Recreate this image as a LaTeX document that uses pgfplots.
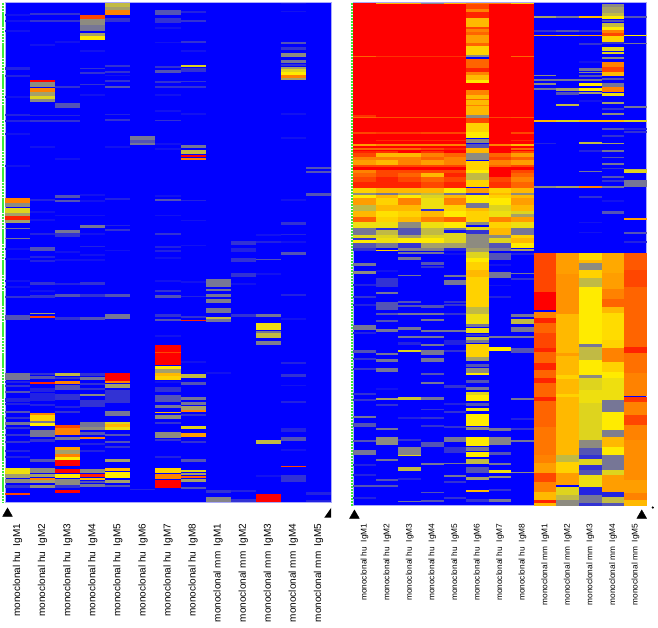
\documentclass[border=0pt]{standalone}
\usepackage{fontspec}
\setmainfont{Liberation Sans}
\usepackage{pgfplots}
\pgfplotsset{compat=1.18}

% one stripe of the heat map: column wide, 1pt high, hanging below y
\pgfdeclareplotmark{band}{%
  \pgfpathrectangle{\pgfpoint{-\pgfplotmarksize}{-1pt}}{\pgfpoint{2\pgfplotmarksize}{1pt}}%
  \pgfusepathqfill}
% right-angled corner marker of the left panel
\pgfdeclareplotmark{corner}{%
  \pgfpathmoveto{\pgfpoint{-3.5pt}{-5pt}}\pgfpathlineto{\pgfpoint{3.5pt}{-5pt}}%
  \pgfpathlineto{\pgfpoint{3.5pt}{5pt}}\pgfpathclose\pgfusepathqfill}

\pgfplotsset{
  colormap={heat}{rgb255=(0,0,255) rgb255=(18,18,240) rgb255=(50,50,212) rgb255=(118,118,150)
    rgb255=(165,160,105) rgb255=(222,212,30) rgb255=(255,235,0) rgb255=(255,185,0)
    rgb255=(255,130,0) rgb255=(255,70,0) rgb255=(255,0,0)},
  heatpanel/.style={
    scale only axis, clip=false, y dir=reverse,
    axis background/.style={fill={rgb,255:red,0;green,0;blue,255}},
    axis line style={draw={rgb,255:red,170;green,170;blue,250},line width=0.6pt},
    xmin=0.5, xmax=13.5, ytick=\empty,
    xtick={1,...,13}, xticklabel pos=lower, major tick length=0pt,
    xticklabels={monoclonal hu\ \ IgM1,monoclonal hu\ \ IgM2,monoclonal hu\ \ IgM3,monoclonal hu\ \ IgM4,
      monoclonal hu\ \ IgM5,monoclonal hu\ \ IgM6,monoclonal hu\ \ IgM7,monoclonal hu\ \ IgM8,
      monoclonal mm\ \ IgM1,monoclonal mm\ \ IgM2,monoclonal mm\ \ IgM3,monoclonal mm\ \ IgM4,monoclonal mm\ \ IgM5},
    colormap name=heat, point meta min=0, point meta max=10,
  },
  stripes/.style={
    scatter, only marks, mark=band, mark size=#1,
    point meta=\thisrow{v},
    visualization depends on=\thisrow{h} \as \hh,
    scatter/@pre marker code/.append style={/tikz/yscale=\hh},
  },
}

\begin{document}
\begin{tikzpicture}
\path[use as bounding box] (0pt,0pt) rectangle (658pt,-627pt);

% left panel
\begin{axis}[heatpanel, name=lp, at={(5pt,-502.3pt)}, anchor=south west,
  width=326pt, height=499.6pt, ymin=2.7, ymax=502.3,
  xticklabel style={rotate=90, anchor=east, font=\fontsize{10}{12}\selectfont, xshift=-18pt}]
\addplot[stripes=12.54] table[x=c,y=y,row sep=\\] {
c y h v\\
1 14 1.5 1\\ 1 20 1.5 1\\ 1 30 1.5 1\\ 1 67 2.5 1.5\\ 1 75 1.5 1.5\\ 1 96 2 1\\ 1 114 1.5 1.5\\ 1 120 1.5 1.5\\ 1 133 1.5 1\\ 1 165 1.5 1\\
1 198.3 5 8\\ 1 203.3 4 3.5\\ 1 208.3 5 5\\ 1 213.3 2.5 4\\ 1 216 4 9.5\\ 1 220 3.3 4\\ 1 227.5 1.8 3\\ 1 237.5 1.8 3\\ 1 248 2 1\\ 1 258 1.5 1\\ 1 280 1.5 1\\ 1 286 1.5 1\\ 1 296 1.5 2\\ 1 315 5 2.5\\
1 373 7 3\\ 1 381 2 1.5\\ 1 385 2 2\\ 1 390.5 2.5 2.5\\ 1 398 4 1.5\\ 1 403 2 1.5\\ 1 411 2 2.5\\ 1 417 2 2\\ 1 421.5 3 3\\ 1 427 2 2\\ 1 434 2 2\\ 1 441 2 2\\ 1 450 2 1.5\\ 1 456 2 1.5\\
1 467.7 6.3 5.5\\ 1 474 4.3 4\\ 1 479.3 4 3.5\\ 1 485 3 2\\ 1 493 1.5 9\\
2 12.5 2 2\\ 2 20 2 2\\ 2 44 1.5 1\\ 2 80 1.5 10\\ 2 81.5 5.5 3.5\\ 2 88 4 8\\ 2 92 4 4\\ 2 96 3 5\\ 2 99 3 3.5\\ 2 114.5 1.5 1.5\\ 2 119.5 2 2\\ 2 146 1.5 1\\
2 199 2 1.5\\ 2 211 1.5 1\\ 2 219 1.5 1\\ 2 233 2 1.5\\ 2 247 3.5 2.5\\ 2 256 1.5 1.5\\ 2 260 1.5 1.5\\ 2 281.5 3.5 2\\ 2 290 1.5 1\\ 2 295 2.5 2\\ 2 312.5 1.5 4\\ 2 315.8 2 9\\
2 373 2 2\\ 2 376 3 2.5\\ 2 381.7 2.7 9.5\\ 2 388 4 1.5\\ 2 393 8 1.5\\ 2 404 2 1.5\\ 2 412.7 2.3 8\\ 2 415 6 6.5\\ 2 421 2.5 3\\ 2 423.3 2.7 6\\ 2 430 6.7 3\\ 2 439 2.5 2\\ 2 459 2.5 2.5\\ 2 468 5 3.5\\ 2 474 3 4\\ 2 477.5 2 8\\ 2 480 3 4\\ 2 485 3.3 3.5\\
3 12.5 2 2\\ 3 20 2 2\\ 3 41 1.5 1\\ 3 86 2 2\\ 3 102.7 5.3 2.5\\ 3 114.5 1.5 1.5\\ 3 119.5 2 2\\ 3 158 1.5 1\\
3 195 3.3 2.5\\ 3 200 1.8 2.5\\ 3 214.5 1.5 1\\ 3 230 2.5 3\\ 3 233 3.5 2\\ 3 251 1.5 1\\ 3 259 1.5 1\\ 3 283 1.5 1.5\\ 3 294 2.5 2.5\\ 3 317 2.5 2\\
3 373 3 4.5\\ 3 376.5 2 2\\ 3 381 2.5 8\\ 3 385 5 2.5\\ 3 394 6 2\\ 3 406 2 1.5\\ 3 411 2 2\\ 3 425 3 9\\ 3 428 7 8\\ 3 436.7 3.3 3\\ 3 447 3 7.5\\ 3 450 4 4\\ 3 454 3.3 8\\ 3 457.3 2.7 6\\ 3 460 6 10\\ 3 469.3 4 10\\ 3 474 4.3 6\\ 3 479.3 5.7 3.5\\ 3 485 2.5 2\\ 3 490 3 10\\
4 15 3.5 9\\ 4 18.5 6.5 3.5\\ 4 25 6 3\\ 4 32.5 3.5 4\\ 4 36 4 6\\ 4 50 1.5 1\\ 4 67.5 1.5 2\\ 4 72 1.5 2\\ 4 83.5 1.5 2\\ 4 94 1.5 1\\
4 194 1.5 1\\ 4 200 1.5 1\\ 4 214.5 1.5 1\\ 4 224.5 3 3\\ 4 233 1.5 1\\ 4 245.5 1.5 1.5\\ 4 254 1.5 1\\ 4 259 1.5 1\\ 4 282 3 2\\ 4 294 2.5 2\\ 4 317 3 2.5\\
4 373 2.5 2\\ 4 376.7 3.3 3\\ 4 383 2 2\\ 4 388 2 2\\ 4 394 2 3.5\\ 4 400 7 2\\ 4 421.7 5 3\\ 4 427 2.5 3.5\\ 4 431.5 3.5 2.5\\ 4 437.3 2 8\\ 4 443 1.5 1.5\\ 4 450 1.5 1.5\\ 4 469.3 4 3.5\\ 4 474 3.3 9.5\\ 4 478 1.5 7\\ 4 481 1.5 2.5\\ 4 484 2.5 3\\
5 2.7 3.8 4.5\\ 5 6.5 3.5 4\\ 5 10 5 8\\ 5 18 4 2\\ 5 64.5 2 2\\ 5 71 2 2\\ 5 74.5 1.5 1\\ 5 79.5 2 2\\ 5 86 2.2 2.5\\ 5 113.5 1.5 1.5\\ 5 118.5 2 2\\ 5 146 1.5 1\\
5 198 2 1.5\\ 5 224.5 1.5 1.5\\ 5 228.5 2 2\\ 5 249.5 1.5 1\\ 5 294 2.5 2.5\\ 5 313.5 5 3\\
5 373.3 7.4 10\\ 5 380.7 1.8 8\\ 5 384.3 4 4\\ 5 390 2 2\\ 5 392 11 2\\ 5 411 5 3\\ 5 421.5 2.8 5\\ 5 424.3 3 7\\ 5 427.3 2.7 5.5\\ 5 434 2 2.5\\ 5 440.5 2 2.5\\ 5 446 2 2\\ 5 459 2.5 4\\ 5 468 2.7 7\\ 5 471.7 6.6 6\\ 5 480 3.3 4\\ 5 484.5 2 2.5\\
6 136 3.5 3\\ 6 139.5 3.5 2.5\\ 6 143 2 3\\ 6 488.5 1.5 1.5\\
7 10 5 2.5\\ 7 18 4.5 2\\ 7 27 1.5 1\\ 7 41.5 1.5 1\\ 7 66 2 2\\ 7 69.5 3.5 2.5\\ 7 81 1.5 2\\ 7 86 1.5 2\\ 7 94 1.5 1\\ 7 110 1.5 1\\ 7 119.5 1.5 2\\ 7 143 1.5 1\\ 7 148 1.5 1\\
7 195 1.5 1\\ 7 199 2.2 2.5\\ 7 214.5 1.5 1\\ 7 232.5 2 2\\ 7 246 2 1.5\\ 7 250 1.5 1.5\\ 7 257 1.5 1\\ 7 280 1.5 1\\ 7 289.5 2 2\\ 7 295 3 2.5\\ 7 314 2.5 2\\ 7 318.5 2 2.5\\ 7 335 1.5 1\\
7 344.7 7 10\\ 7 351.7 1.6 9\\ 7 353.3 11.7 10\\ 7 366 3.3 6\\ 7 369.3 3.4 4\\ 7 372.7 3.3 7\\ 7 376 4 6.5\\ 7 381 1.5 1\\ 7 386.5 5 2\\ 7 395 6.7 2.5\\ 7 405 3 3\\ 7 411.7 1.5 7\\ 7 415 3.5 3.5\\ 7 422 2 2\\ 7 432.3 6 3.5\\ 7 439 2 2\\ 7 456 2 1.5\\ 7 467.7 5.6 6.5\\ 7 474 5.3 8\\ 7 480 7.7 10\\
8 11 1.5 1.5\\ 8 20 2 2\\ 8 40.5 2 2\\ 8 50 1.5 1\\ 8 65 2 5\\ 8 68 4 2\\ 8 80.5 1.5 2\\ 8 85.5 2 2\\ 8 113 1.5 1\\
8 145 3 3\\ 8 150 4 4.5\\ 8 155 2.3 10\\ 8 157.5 2.5 8\\
8 199.5 1.5 1.5\\ 8 219.5 1.5 1\\ 8 244.5 1.5 1\\ 8 281 1.5 1\\ 8 295.5 1.5 1.5\\ 8 316 2 2\\ 8 320.2 1.2 9.5\\
8 361 1.5 1\\ 8 374.3 4 4.5\\ 8 381.5 3.5 2.5\\ 8 396.7 3.3 3\\ 8 401.5 3.5 3\\ 8 405.7 4.3 4\\ 8 410 1.5 8\\ 8 414 2 2\\ 8 425.7 3.6 5\\ 8 433.3 3.4 7.5\\ 8 441 2 2\\ 8 459 2.5 2.5\\ 8 469.5 2 5\\ 8 472.5 2.5 4\\ 8 476 1.8 8.5\\ 8 479 2.5 4\\ 8 486.5 2 2.5\\
9 279.3 8 3\\ 9 289.3 2 3\\ 9 294 3.3 3\\ 9 299.3 4 3.2\\ 9 308.3 4.4 3\\ 9 317 1.8 4.5\\ 9 319.3 2.4 3\\ 9 372 1.5 1\\ 9 490 3 2\\ 9 497.3 5 3.3\\
10 240.7 4.3 2\\ 10 248 4 1.5\\ 10 257.7 4.3 2\\ 10 272.7 4 2\\ 10 283 2 1\\ 10 314 2.5 2\\ 10 490 2 1.5\\ 10 498.5 3.5 2\\
11 234 1.5 1\\ 11 241 1.5 1.5\\ 11 258.5 1.8 2.5\\ 11 273 1.5 1\\ 11 314 2.5 3\\ 11 322.7 7.3 5.5\\ 11 331 2 3\\ 11 333.3 4.4 4.5\\ 11 341 4 3.2\\ 11 440 4 4.5\\ 11 475 1.5 1\\ 11 494.3 8 10\\
12 2.7 1.5 1\\ 12 10.5 1.5 1\\ 12 41.5 2.5 2.5\\ 12 46.5 3.5 2\\ 12 52.5 4.5 3.5\\ 12 60 3 3\\ 12 63.5 2.5 2\\ 12 66.5 2.5 4\\ 12 69 3 5\\ 12 72 2.5 6\\ 12 74.5 3.5 8\\ 12 78 2 4\\ 12 113 1.5 1\\ 12 137 1.5 1\\
12 199 1.5 1\\ 12 222.3 2.8 2\\ 12 233.5 1.5 1.5\\ 12 241 1.5 1\\ 12 252 2.5 2.5\\ 12 294 1.5 1.5\\ 12 318 1.5 1\\
12 362 1.5 1.5\\ 12 373.5 3.5 2\\ 12 384.5 1.5 1\\ 12 401 2 1.5\\ 12 428 3.5 1.5\\ 12 436.7 4.3 2.5\\ 12 449 1.5 1\\ 12 466 1.2 9\\ 12 474.5 7 2\\
13 167 2 2.5\\ 13 171 2 2.5\\ 13 192.7 3.3 2.5\\ 13 492 3 1.5\\ 13 499.5 2 1.5\\
};
\addplot[no marks, draw={rgb,255:red,60;green,235;blue,60}, line width=1.8pt, dash pattern=on 2.5pt off 0.6pt]
  coordinates {(0.42,2.7) (0.42,502.3)};
\addplot[only marks, mark=triangle*, mark size=5.6pt, black] coordinates {(0.6,513.5)};
\addplot[only marks, mark=corner, black] coordinates {(13.37,512.7)};
\end{axis}

% right panel
\begin{axis}[heatpanel, name=rp, at={(353.3pt,-505.7pt)}, anchor=south west,
  width=293.4pt, height=503pt, ymin=2.7, ymax=505.7,
  xticklabel style={rotate=90, anchor=east, font=\fontsize{8.3}{10}\selectfont, xshift=-14.5pt}]
\addplot[stripes=11.28] table[x=c,y=y,row sep=\\] {
c y h v\\
1 2.7 1.2 10\\ 2 2.7 1.2 7\\ 3 2.7 1.2 7\\ 4 2.7 1.2 3.5\\ 5 2.7 1.2 7\\ 6 2.7 1.2 8\\ 7 2.7 1.2 8\\ 8 2.7 1.2 6.5\\
1 3.5 184 10\\ 2 3.5 184 10\\ 3 3.5 184 10\\ 4 3.5 184 10\\ 5 3.5 184 10\\ 7 3.5 184 10\\ 8 3.5 184 10\\
1 55.5 1.3 8.5\\ 2 55.5 1 9.3\\ 3 55.5 1 9.3\\ 4 55.5 1 9.3\\ 5 55.5 1 9.3\\ 8 55.5 1.3 8.5\\
1 115 2.5 9.3\\ 1 117.3 1 8.5\\ 2 117.3 1 8.8\\ 3 117.3 1 8.8\\ 4 117.3 1 8.8\\ 5 117.3 1 8.8\\ 7 117.3 1 9\\ 8 117.3 1 8.8\\
1 132 1.5 9\\ 2 132 1.5 9.2\\ 3 132 1.5 9.2\\ 4 132 1.5 9\\ 5 132 1.5 9\\ 8 132 1.5 9\\
2 139.5 1.5 9.4\\ 3 139.5 1.5 9.4\\ 4 139.5 1.5 9.4\\ 5 139.5 1.5 9.4\\ 8 139.5 1.5 9.4\\
1 144.3 1.8 7.5\\ 2 144.3 1.8 8\\ 3 144.3 1.8 8\\ 4 144.3 1.8 8\\ 5 144.3 1.8 8\\ 7 144.3 1.8 8\\ 8 144.3 1.8 7\\
1 147.5 2 8.5\\ 2 147.5 2 8.5\\ 3 147.5 2 8.5\\ 4 147.5 2 9\\ 5 147.5 2 9.5\\ 8 147.5 2 8.5\\
1 150.5 2.5 9.5\\ 2 150.5 2.5 9.3\\ 4 150.5 2.5 9.3\\ 8 150.5 2.5 9\\
1 153.3 3.4 9\\ 2 153.3 3.4 7\\ 3 153.3 3.4 7\\ 4 153.3 3.4 8\\ 5 153.3 3.4 8.5\\ 7 153.3 3.4 8.5\\ 8 153.3 3.4 7.5\\
1 156.7 3.3 8\\ 2 156.7 3.3 8\\ 3 156.7 3.3 8\\ 4 156.7 3.3 8.5\\ 5 156.7 3.3 8\\ 7 156.7 3.3 9\\ 8 156.7 3.3 8.5\\
1 160 5 7.5\\ 2 160 5 7\\ 3 160 5 8\\ 4 160 5 7.5\\ 5 160 5 8\\ 7 160 5 8\\ 8 160 5 7.5\\
1 165 2 9\\ 2 165 2 9\\ 3 165 2 9\\ 4 165 2 9\\ 5 165 2 9\\ 7 165 2 8.5\\ 8 165 2 9\\
1 170 3 8\\ 2 170 3 9\\ 3 170 3 9\\ 4 170 3 9\\ 5 170 3 9\\ 8 170 3 9\\
1 173 4 8.5\\ 2 173 4 9\\ 3 173 4 8.5\\ 4 173 4 7\\ 5 173 4 9.5\\ 8 173 4 8.5\\
1 177 5 9\\ 2 177 5 9.5\\ 3 177 5 9\\ 4 177 5 8.5\\ 5 177 5 9\\ 7 177 5 9\\ 8 177 5 8\\
1 182 5.5 9.5\\ 2 182 5.5 9.5\\ 3 182 5.5 9.5\\ 4 182 5.5 9\\ 5 182 5.5 9.5\\ 7 182 5.5 9.3\\ 8 182 5.5 8.5\\
1 188 5 6.5\\ 2 188 5 7\\ 3 188 5 7\\ 4 188 5 7\\ 5 188 5 6\\ 7 188 5 6.5\\ 8 188 5 7\\
1 193 2 3.5\\ 2 193 2 3\\ 3 193 2 4\\ 4 193 2 4.5\\ 5 193 2 3\\ 7 193 2 7\\ 8 193 2 3.5\\
1 195 3 6\\ 2 195 3 7\\ 3 195 3 6\\ 4 195 3 5\\ 5 195 3 7\\ 7 195 3 6.5\\ 8 195 3 7\\
1 198 7 7.5\\ 2 198 7 6.5\\ 3 198 7 8\\ 4 198 7 5.5\\ 5 198 7 8\\ 7 198 7 6\\ 8 198 7 7.5\\
1 205 6 4.5\\ 2 205 6 7\\ 3 205 6 7\\ 4 205 4.3 5.5\\ 4 209.3 1.7 2\\ 5 205 6 6.5\\ 7 205 6 5\\ 8 205 6 7\\
1 211 6 7\\ 2 211 6 6.2\\ 3 211 6 6.5\\ 4 211 6 7\\ 5 211 6 6\\ 7 211 6 5.5\\ 8 211 3 5\\ 8 214 3 4\\
1 217 5 8.5\\ 2 217 5 6.5\\ 3 217 5 7\\ 4 217 5 8\\ 5 217 5 8.5\\ 7 217 5 8\\ 8 217 5 7.5\\
1 222 6 5.5\\ 2 222 6 5.5\\ 3 222 6 3.5\\ 4 222 6 5.5\\ 5 222 6 6\\ 7 222 6 6.5\\ 8 222 6 5.5\\
1 228.3 6.7 3\\ 2 228.3 2 2\\ 2 230.3 4.7 4.5\\ 3 228.3 6.7 2.5\\ 4 228.3 6.7 4.5\\ 5 228.3 1.7 3\\ 5 230 3 1\\ 5 233 2 5\\ 7 228.3 6.7 7\\ 8 228.3 6.7 3\\
1 235 3.3 5\\ 2 235 3.3 5\\ 3 235 3.3 4\\ 4 235 3.3 5\\ 5 235 3.3 5\\ 7 235 3.3 3.5\\ 8 235 3.3 6.5\\
1 238.3 2 2\\ 1 240.3 2.4 6\\ 2 238.3 4.4 5.5\\ 3 238.3 4.4 6\\ 4 238.3 4.4 6\\ 5 238.3 4.4 5\\ 7 238.3 4.4 5\\ 8 238.3 4.4 7\\
1 242.7 5.6 2.5\\ 2 242.7 5.6 3\\ 3 242.7 5.6 2\\ 4 242.7 5.6 4\\ 5 242.7 5.6 4\\ 7 242.7 5.6 2.5\\ 8 242.7 5.6 6\\
1 248.3 3 2\\ 2 249.5 1.5 6.5\\ 3 248.3 3 3.2\\ 4 248.3 3 3.2\\ 5 248.3 3 1.5\\ 7 248.3 3 3\\ 8 249 1.5 4\\
1 263 3 3\\ 1 270.5 3.5 3.5\\ 1 284 2 1.5\\ 1 296 2 2\\ 1 304 2 1.5\\ 1 325 4.5 3\\ 1 332 2 1.5\\ 1 350 2.5 2.5\\ 1 358 2 2\\ 1 368 2 2\\ 1 393 2 2\\ 1 399 2 2\\ 1 415.5 2 3\\ 1 423 4 2.5\\ 1 440 2 2.5\\ 1 450 5 3\\ 1 464 2 1.5\\ 1 474 2 1.5\\ 1 485 2 2.5\\ 1 497 2 1.5\\
2 270 1.5 1\\ 2 278 9 2\\ 2 292 1.5 3\\ 2 301.7 8.3 2.5\\ 2 312.5 2 2.5\\ 2 319.5 2 2.5\\ 2 329 2.5 3\\ 2 352.5 2 3\\ 2 359 2.5 3\\ 2 368.3 4 3\\ 2 388 1.5 1\\ 2 397.5 2 4\\ 2 404 2 2\\ 2 428 1.5 3\\ 2 436.7 8.3 3.5\\ 2 459 1.5 3\\ 2 479 2 2.5\\ 2 485 2 2.5\\
3 252 2 3\\ 3 257 3 3\\ 3 274.5 1.5 3\\ 3 301 2 2.5\\ 3 304.5 2 2.5\\ 3 313 2 3\\ 3 326.7 3.3 3\\ 3 336 2 3\\ 3 342 2.5 1.5\\ 3 350 2 5\\ 3 397 3 4.7\\ 3 417 1.5 1.5\\ 3 439 2 2\\ 3 447.3 7.7 3.3\\ 3 455 1.3 5\\ 3 466.7 4 4.5\\ 3 478 1.5 1.5\\ 3 500.5 1.2 3\\
4 252 2 3\\ 4 262 3 2.5\\ 4 266 2 2\\ 4 305 3 2.5\\ 4 313 2 3\\ 4 319 1.5 3\\ 4 330 1.5 3\\ 4 336 2 3\\ 4 344 1.5 3\\ 4 350 5 3\\ 4 358 4 3\\ 4 373 1.5 2.5\\ 4 382 2 3\\ 4 397 3 3\\ 4 408.5 1.5 2\\ 4 417 2 2\\ 4 425 2 2\\ 4 441.5 5 2.5\\ 4 463 1.5 3\\ 4 491.5 1.5 2.5\\ 4 500 1.5 2.5\\
5 253 1.5 1\\ 5 275 2.3 3\\ 5 280 5 3\\ 5 301 2 2\\ 5 304 2 2\\ 5 313 2 2\\ 5 330 1.5 3\\ 5 340 5 1.5\\ 5 350 2 2\\ 5 385 2.5 2\\ 5 403 2 1.5\\ 5 411 2 2\\ 5 426 2 2\\ 5 436.7 5 3\\ 5 447 6 2\\ 5 462.5 1.5 3\\ 5 475 2 3\\ 5 481 2 2\\ 5 497 2 2\\
6 3.5 5 9\\ 6 8.5 3.5 8\\ 6 12 6 9.5\\ 6 18.3 8.7 7\\ 6 27 1.5 9\\ 6 28.5 3.5 8\\ 6 32 3 8.5\\ 6 35 8 7.5\\ 6 43 3 8.5\\ 6 46 9 6.5\\ 6 55 2.3 3.5\\ 6 59 9 8.5\\ 6 68 3.5 9.5\\ 6 71.5 3.5 8\\ 6 75 5 7\\ 6 80 3 6\\ 6 83 7 10\\ 6 90 5 8\\ 6 95 20 7\\ 6 99 1.2 8.5\\ 6 105 1.2 8\\ 6 115 3.3 3.5\\ 6 118.3 5 9\\ 6 123.3 8.4 6.5\\ 6 131.7 6.6 6\\ 6 139 4 3.5\\ 6 144 4 2.5\\ 6 148.3 4.4 7\\ 6 153.3 6.7 3.5\\ 6 161 9 6.5\\ 6 170 3 6\\ 6 173 7 4.5\\ 6 180 7 6.5\\ 6 188 4.7 7.5\\ 6 193 2 2\\ 6 195 8 6\\ 6 203 5 3\\ 6 208 3 7\\ 6 211 11 6.5\\ 6 222 3 3.5\\ 6 226.5 3.5 5\\ 6 230 3.5 2\\ 6 233.5 4.5 3.5\\ 6 238 10 3.5\\ 6 248 4 4\\ 6 252 6 5\\ 6 258 3.5 6\\ 6 261.5 8.5 6.5\\ 6 270 7 7\\ 6 277 30 6.5\\ 6 307 6.5 4.5\\ 6 313.5 10 5.5\\ 6 323.5 3.5 3\\ 6 327.7 5.6 5.5\\ 6 333.5 2.5 2\\ 6 336.5 3.5 4.5\\ 6 340 3.3 3\\ 6 344 12.7 6.5\\ 6 356.7 4 4\\ 6 363.5 3.5 2.5\\ 6 368.3 4.4 3.5\\ 6 372.7 2 6\\ 6 380 3 2.5\\ 6 386.5 3.5 3\\ 6 391.7 3.3 5\\ 6 395 6 6\\ 6 403 2.5 2.5\\ 6 407.7 3.3 5.5\\ 6 414 12 6\\ 6 426.5 3 3.5\\ 6 437.3 8.7 6\\ 6 447.3 4 3\\ 6 451.7 5 6\\ 6 459.3 4.7 4.5\\ 6 467.3 6 2.5\\ 6 476.7 3.3 4\\ 6 490 1.5 7\\ 6 499 2.5 2\\
7 253.3 6.7 2.5\\ 7 264 1.5 1\\ 7 271.7 6.6 3\\ 7 284.5 1.5 1\\ 7 296 2 1.5\\ 7 336 1.5 3\\ 7 347.3 3.4 6\\ 7 428 3 3\\ 7 437.3 7.7 3.3\\ 7 451.5 3.5 2.5\\ 7 462.5 2 3\\ 7 470 3.3 5.5\\ 7 475.5 2.5 3.5\\ 7 489 2 2\\ 7 498.5 3 3\\
8 252.5 2 1.5\\ 8 272.5 1.3 3\\ 8 278 2 2\\ 8 313.5 3 3\\ 8 319.3 4.7 4.5\\ 8 326.7 5 3\\ 8 336 2 3\\ 8 348 5 2.5\\ 8 397.5 2 3\\ 8 418 1.5 1.5\\ 8 428 2 2\\ 8 439.5 2 3\\ 8 471.7 1.5 3.5\\
9 16 1.5 4\\ 9 30 1.5 2\\ 9 34.5 1.8 7.5\\ 9 74.5 1.8 3.5\\ 9 79 1.5 3\\ 9 82.5 2 3.5\\ 9 87.5 2 3\\ 9 120 1.8 7\\ 9 142.5 1.2 1.5\\ 9 186 1.5 3.5\\
9 252.5 7.5 9\\ 9 260 31.7 9\\ 9 291.7 18.3 10\\ 9 311.7 6.3 8\\ 9 318 5 9.5\\ 9 323 10 8.5\\ 9 333 7 9\\ 9 340 8 9\\ 9 348 4 9.5\\ 9 352 11 8.5\\ 9 363 7 9.5\\ 9 370 8 8.5\\ 9 378 5 9.5\\ 9 383 14 8.5\\ 9 397 3.5 9.5\\ 9 400.5 26 8.5\\ 9 426.5 28.5 8.2\\ 9 455 8 8\\ 9 463 10 7.5\\ 9 473 8.5 9\\ 9 481.5 10 8\\ 9 491.5 8.5 7\\ 9 500 3.3 9.5\\ 9 503.3 2.4 7\\
10 16 1.5 3\\ 10 30 1.5 2.5\\ 10 34.5 1.8 7\\ 10 79 1.5 3\\ 10 88.3 2.4 4\\ 10 92 2.5 2.5\\ 10 103.5 2.5 4.5\\ 10 120 1.8 5\\ 10 186 1.5 4\\
10 252.5 21 7.5\\ 10 273.5 40 7.7\\ 10 313.5 26.5 7\\ 10 340 115 7\\ 10 353 3 7.5\\ 10 375 4 6.5\\ 10 394 3 6.5\\ 10 455 6.7 4.5\\ 10 461.7 11.3 6.5\\ 10 473 12 7.5\\ 10 486.7 8.3 5\\ 10 495 5 4.5\\ 10 500 5.7 3.5\\
11 16 1.5 7\\ 11 30 1.5 2\\ 11 34.5 1.8 7.5\\ 11 43 1.5 2\\ 11 61 1.5 1\\ 11 68 2.5 3\\ 11 71.5 1.5 3.5\\ 11 74.5 2 2.5\\ 11 79 1.5 3\\ 11 83.3 2.7 6\\ 11 88.3 2.4 6\\ 11 92 2 4\\ 11 100 1.5 1\\ 11 120 1.8 7\\ 11 142 1.5 4.5\\ 11 150 1.5 1.5\\ 11 170.5 1.5 3\\ 11 186 1.5 8\\ 11 196 1.5 2\\ 11 221.5 1.5 1\\ 11 231.5 1.5 1\\
11 252.5 7.5 6.3\\ 11 260 3 7\\ 11 263 7 3.5\\ 11 270 8 6.5\\ 11 278 8.5 4.5\\ 11 286.5 17 6\\ 11 303.5 36.5 6\\ 11 340 4 6\\ 11 344 2.7 3\\ 11 346.7 13.3 4.5\\ 11 360 15 6\\ 11 375 3.3 3.5\\ 11 378.3 11.7 5\\ 11 390 13 5.5\\ 11 403 37 5\\ 11 440 8.3 3.5\\ 11 448.3 6.7 2.5\\ 11 455 4.3 2\\ 11 459.3 5.7 5\\ 11 465 5 2\\ 11 470 5 2.5\\ 11 475 11.7 5.5\\ 11 486.7 8.3 1.5\\ 11 495 8 3\\ 11 503 2.7 2\\
12 4 2.7 3.5\\ 12 7.3 2.7 4\\ 12 10 3.3 4\\ 12 13.3 2.7 4.5\\ 12 16 3 6\\ 12 19.5 2.5 2.5\\ 12 22.7 4 4.5\\ 12 26.7 3.3 6\\ 12 30 2.7 8\\ 12 32.7 3.3 9\\ 12 36 5.7 6.5\\ 12 41.7 2.7 2\\ 12 46.7 4 5\\ 12 51.7 2.3 5\\ 12 57 1.5 3.5\\ 12 61.7 5 8\\ 12 66.7 5 9\\ 12 71.7 4.3 7\\ 12 78 1.5 2.5\\ 12 82.7 4.6 3\\ 12 87.3 4.4 8\\ 12 92.7 3.3 5.5\\ 12 101.7 2.3 4\\ 12 108 1.5 2\\ 12 113 1.5 3.5\\ 12 120 1.8 7\\ 12 128 1.5 2.5\\ 12 135 1.5 2\\ 12 142.5 1.5 4\\ 12 150 1.5 3\\ 12 156.5 1.5 2.5\\ 12 163 1.8 3\\ 12 167.5 1.5 2\\ 12 176 1.5 2.5\\ 12 180 1.5 2\\ 12 186 1.5 3\\ 12 200 1.5 1\\ 12 210.5 3 2.5\\
12 252.5 20 7.3\\ 12 272.5 16 7.5\\ 12 288.5 10 8\\ 12 298.5 8 8.5\\ 12 306.5 6.5 7\\ 12 313 27 6.3\\ 12 340 8.3 6.5\\ 12 348.3 13.4 8\\ 12 361.7 10 6.5\\ 12 371.7 6.6 6\\ 12 378.3 21.7 5.5\\ 12 400 11.7 3\\ 12 411.7 18.3 6\\ 12 430 6.7 3.2\\ 12 436.7 10 7\\ 12 446.7 8.3 6\\ 12 455 15 3\\ 12 470 5 5\\ 12 475 16.7 7.5\\ 12 491.7 5.6 1.5\\ 12 497.3 6 4.5\\ 12 503.3 2.4 2.5\\
13 16 1.5 2.5\\ 13 34.5 1.8 6\\ 13 42.5 1.5 3\\ 13 106 1.5 3\\ 13 120 1.8 5\\ 13 128 1.5 1.5\\ 13 131 1.5 2\\ 13 168.5 1.5 4.5\\ 13 170 2.7 5\\ 13 180 2.5 3\\ 13 183 3.5 3\\ 13 217.5 2 7.5\\ 13 232 1.5 2.5\\ 13 241 1.5 1.5\\
13 252.5 17 8.7\\ 13 269.5 17 9\\ 13 286.5 53.5 8.5\\ 13 340 7 8.5\\ 13 347 6 9.5\\ 13 353 20 8.3\\ 13 373 23 8\\ 13 396.5 5 9.2\\ 13 401.5 13 8\\ 13 414.5 10 9\\ 13 424.5 15 8\\ 13 439.5 40.5 7.8\\ 13 480 13 7.5\\ 13 493 7 8\\ 13 500 5.7 7\\
};
\addplot[no marks, draw={rgb,255:red,60;green,235;blue,60}, line width=1.8pt, dash pattern=on 2pt off 1pt]
  coordinates {(0.43,2.7) (0.43,505.7)};
\addplot[only marks, mark=triangle*, mark size=5.6pt, black] coordinates {(0.55,515.5)};
\addplot[only marks, mark=triangle*, mark size=5.6pt, black] coordinates {(13.28,515.5)};
\addplot[only marks, mark=*, mark size=0.9pt, black] coordinates {(13.77,507.5)};
\end{axis}
\end{tikzpicture}
\end{document}
